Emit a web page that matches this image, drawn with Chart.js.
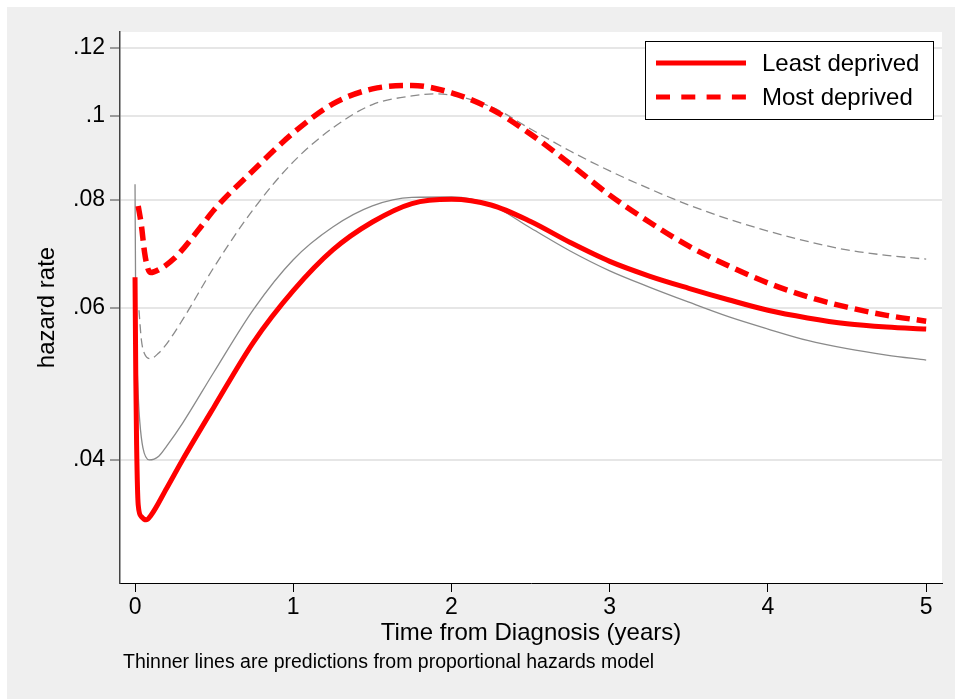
<!DOCTYPE html>
<html>
<head>
<meta charset="utf-8">
<script src="https://cdn.jsdelivr.net/npm/chart.js@4.4.0/dist/chart.umd.min.js"></script>
<style>
  html, body { margin: 0; padding: 0; background: #fff; }
  #wrap { position: absolute; left: 7px; top: 7px; width: 948px; height: 692px; background: #efefef; }
</style>
</head>
<body>
<div id="wrap"><canvas id="hazChart"></canvas></div>
<script>
// hazard by deprivation group, flexible model (thick) vs proportional hazards (thin)
const leastYears = [0, 0.005, 0.01, 0.02, 0.04, 0.07, 0.1, 0.2, 0.3, 0.5, 0.75, 1, 1.25, 1.5, 1.75, 2, 2.25, 2.5, 2.75, 3, 3.25, 3.5, 3.75, 4, 4.25, 4.5, 4.75, 5];
const leastHaz = [0.0651, 0.0495, 0.0416, 0.0355, 0.0344, 0.0341, 0.0345, 0.0371, 0.0400, 0.0461, 0.0548, 0.0628, 0.0700, 0.0754, 0.0792, 0.0801, 0.0789, 0.0755, 0.0714, 0.0679, 0.0653, 0.0632, 0.0613, 0.0596, 0.0584, 0.0575, 0.0570, 0.0567];

const mostYears = [0.02, 0.04, 0.06, 0.08, 0.1, 0.15, 0.25, 0.4, 0.5, 0.75, 1, 1.25, 1.5, 1.75, 2, 2.25, 2.5, 2.75, 3, 3.25, 3.5, 3.75, 4, 4.25, 4.5, 4.75, 5];
const mostHaz = [0.0787, 0.0748, 0.0696, 0.0667, 0.0659, 0.0664, 0.0685, 0.0738, 0.0779, 0.0866, 0.0956, 0.1033, 0.1075, 0.1085, 0.1064, 0.1019, 0.0953, 0.0880, 0.0810, 0.0754, 0.0707, 0.0671, 0.0641, 0.0618, 0.0601, 0.0588, 0.0579];

// proportional hazards predictions
const leastPhYears = [0, 0.004, 0.01, 0.02, 0.03, 0.05, 0.09, 0.15, 0.2, 0.3, 0.5, 0.75, 1, 1.25, 1.5, 1.75, 2, 2.25, 2.5, 2.75, 3, 3.25, 3.5, 3.75, 4, 4.25, 4.5, 4.75, 5];
const leastPhHaz = [0.0834, 0.0613, 0.0536, 0.0476, 0.0443, 0.0413, 0.0400, 0.0404, 0.0415, 0.0441, 0.0506, 0.0598, 0.0682, 0.0744, 0.0787, 0.0805, 0.0806, 0.0789, 0.0742, 0.0698, 0.0662, 0.0634, 0.0609, 0.0586, 0.0567, 0.0550, 0.0538, 0.0529, 0.0522];

const mostPhYears = [0.025, 0.04, 0.06, 0.1, 0.15, 0.2, 0.3, 0.5, 0.75, 1, 1.25, 1.5, 1.75, 1.9, 2.25, 2.5, 2.75, 3, 3.25, 3.5, 3.75, 4, 4.25, 4.5, 4.75, 5];
const mostPhHaz = [0.0596, 0.0551, 0.0531, 0.0524, 0.0532, 0.0545, 0.0581, 0.0669, 0.0781, 0.0885, 0.0969, 0.1031, 0.1055, 0.1061, 0.1025, 0.0966, 0.0911, 0.0864, 0.0824, 0.0789, 0.0760, 0.0736, 0.0716, 0.0700, 0.0690, 0.0683];

const xTicks = [0, 1, 2, 3, 4, 5];
const yTicks = [0.04, 0.06, 0.08, 0.1, 0.12];
const yTickLabels = ['.04', '.06', '.08', '.1', '.12'];

const FONT = "'Liberation Sans', Arial, sans-serif";

function toPoints(xs, ys) {
    return xs.map((x, i) => ({ x: x, y: ys[i] }));
}

// white plot region on the grey page
const plotBg = {
    id: 'plotBg',
    beforeDraw(chart) {
        const { ctx, chartArea: a } = chart;
        ctx.save();
        ctx.fillStyle = '#ffffff';
        ctx.fillRect(a.left, a.top, a.right - a.left, a.bottom - a.top);
        ctx.restore();
    }
};

// boxed legend in the top right corner + footnote under the x axis
const legendAndNote = {
    id: 'legendAndNote',
    afterDraw(chart) {
        const { ctx, chartArea: a } = chart;
        const items = chart.data.datasets.filter(d => d.label);
        const bx = a.right - 297, by = a.top + 9, bw = 288, bh = 78;
        ctx.save();
        ctx.fillStyle = '#fff';
        ctx.fillRect(bx, by, bw, bh);
        ctx.strokeStyle = '#000';
        ctx.lineWidth = 1;
        ctx.strokeRect(bx + 0.5, by + 0.5, bw, bh);
        ctx.font = '24px ' + FONT;
        ctx.textBaseline = 'middle';
        items.forEach((d, i) => {
            const y = by + 22 + i * 34;
            ctx.beginPath();
            ctx.strokeStyle = d.borderColor;
            ctx.lineWidth = 5;
            ctx.setLineDash(d.borderDash ? [14, 11.3] : []);
            ctx.moveTo(bx + 11, y);
            ctx.lineTo(bx + 101, y);
            ctx.stroke();
            ctx.setLineDash([]);
            ctx.fillStyle = '#000';
            ctx.fillText(d.label, bx + 117, y + 1);
        });
        ctx.font = '19.5px ' + FONT;
        ctx.textBaseline = 'middle';
        ctx.fillStyle = '#000';
        ctx.fillText('Thinner lines are predictions from proportional hazards model', a.left + 3, chart.height - 36);
        ctx.restore();
    }
};

new Chart(document.getElementById('hazChart'), {
    type: 'line',
    data: {
        datasets: [{
            label: 'Least deprived',
            data: toPoints(leastYears, leastHaz),
            borderColor: '#ff0000',
            borderWidth: 5,
            order: 0
        }, {
            label: 'Most deprived',
            data: toPoints(mostYears, mostHaz),
            borderColor: '#ff0000',
            borderWidth: 5.5,
            borderDash: [14, 7],
            order: 0
        }, {
            data: toPoints(leastPhYears, leastPhHaz),
            borderColor: '#8a8a8a',
            borderWidth: 1.3,
            order: 1
        }, {
            data: toPoints(mostPhYears, mostPhHaz),
            borderColor: '#8a8a8a',
            borderWidth: 1.3,
            borderDash: [9, 5],
            order: 1
        }]
    },
    options: {
        responsive: true,
        maintainAspectRatio: false,
        animation: false,
        parsing: false,
        layout: { padding: { top: 25, right: 13, bottom: 51, left: 0 } },
        elements: {
            point: { radius: 0 },
            line: { cubicInterpolationMode: 'monotone', fill: false, borderCapStyle: 'butt', borderJoinStyle: 'round' }
        },
        plugins: {
            legend: { display: false },
            tooltip: { enabled: false }
        },
        scales: {
            x: {
                type: 'linear',
                min: -0.095,
                max: 5.1,
                afterBuildTicks: s => { s.ticks = xTicks.map(v => ({ value: v })); },
                afterFit: s => { s.height = 65; },
                ticks: { color: '#000', padding: 2, font: { family: FONT, size: 23 }, callback: v => String(v) },
                grid: { drawOnChartArea: false, tickLength: 9, tickColor: '#000', tickWidth: 1 },
                border: { color: '#000', width: 1 },
                title: { display: true, text: 'Time from Diagnosis (years)', color: '#000', padding: 0, font: { family: FONT, size: 24 } }
            },
            y: {
                type: 'logarithmic',
                min: 0.02882,
                max: 0.1251,
                afterBuildTicks: s => { s.ticks = yTicks.map(v => ({ value: v })); },
                afterFit: s => { s.width = 113; },
                ticks: { color: '#000', padding: 5, font: { family: FONT, size: 23 }, callback: (v, i) => yTickLabels[i] },
                grid: { color: '#e6e6e6', lineWidth: 2, tickLength: 10, tickColor: '#444', tickWidth: 1 },
                border: { color: '#444', width: 1.5 },
                title: { display: true, text: 'hazard rate', color: '#000', padding: { top: 26, bottom: 0 }, font: { family: FONT, size: 24 } }
            }
        }
    },
    plugins: [plotBg, legendAndNote]
});
</script>
</body>
</html>
